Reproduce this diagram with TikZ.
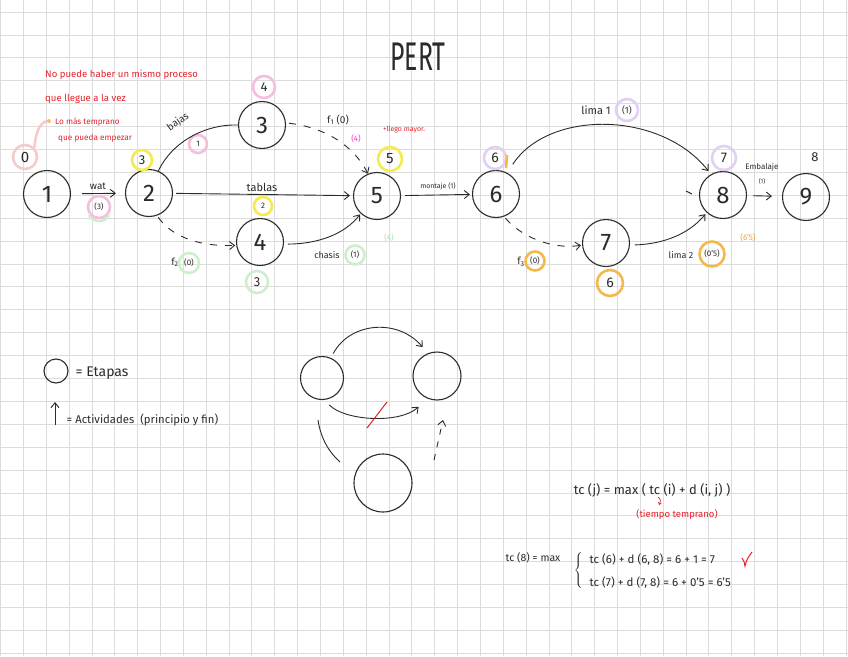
\documentclass[tikz,border=0pt]{standalone}
\usepackage{fontspec}
\setmainfont{Fira Sans}
\usetikzlibrary{arrows.meta}
\definecolor{ink}{HTML}{2B2B2B}
\definecolor{gridc}{HTML}{DCDCDC}
\definecolor{redt}{HTML}{E3212B}
\definecolor{pinkc}{HTML}{F4BEDD}
\definecolor{salmon}{HTML}{F7CACA}
\definecolor{yellowc}{HTML}{F4EC4E}
\definecolor{lavc}{HTML}{E2CFF4}
\definecolor{greenc}{HTML}{CDEFCD}
\definecolor{orangec}{HTML}{F5B84A}
\definecolor{magt}{HTML}{F03CC0}
\definecolor{oranget}{HTML}{F5A030}
\definecolor{greent}{HTML}{A9E3A9}
\newcommand{\fs}[1]{\fontsize{#1}{#1}\selectfont}
\tikzset{
  gridline/.style={draw=gridc, line width=0.8pt},
  stage/.style={circle, draw=ink, line width=1.1pt, minimum size=47pt, inner sep=0pt, font=\fs{24}, text=ink},
  smallstage/.style={circle, draw=ink, line width=1.1pt, inner sep=0pt},
  act/.style={draw=ink, line width=0.9pt, -{Straight Barb[length=5pt,width=8pt]}},
  fict/.style={act, dash pattern=on 7pt off 8pt},
  plainline/.style={draw=ink, line width=0.9pt},
  hl/.style={circle, draw=#1, line width=2.6pt, inner sep=0.5pt, text=ink},
  lbl/.style={inner sep=0.5pt, text=ink},
  redtext/.style={inner sep=0pt, text=redt, anchor=west},
}
\begin{document}
\begin{tikzpicture}[x=1pt,y=-1pt]
\useasboundingbox (0,0) rectangle (848,656);
\fill[white] (0,0) rectangle (848,656);
\foreach \i in {0,...,37} \draw[gridline] ({0.5+22.85*\i},0) -- ({0.5+22.85*\i},656);
\foreach \j in {0,...,28} \draw[gridline] (0,{12+22.9*\j}) -- (848,{12+22.9*\j});

% title
\node[lbl, font=\fs{40}] (title) at (418,57) {\scalebox{0.62}[1]{PERT}};

% red notes
\node[redtext, font=\fs{9.6}] (note1) at (45,75) {No puede haber un mismo proceso};
\node[redtext, font=\fs{9.6}] (note2) at (45,99) {que llegue a la vez};
\node[redtext, font=\fs{8.2}] (note3) at (55,122) {Lo más temprano};
\node[redtext, font=\fs{8.2}] (note4) at (58,138) {que pueda empezar};

% stages
\node[stage] (n1) at (47,194) {1};
\node[stage] (n2) at (149,193) {2};
\node[stage] (n3) at (262,125) {3};
\node[stage] (n4) at (260,242) {4};
\node[stage] (n5) at (377,196) {5};
\node[stage] (n6) at (496,194) {6};
\node[stage] (n7) at (606,243) {7};
\node[stage] (n8) at (723,195) {8};
\node[stage] (n9) at (806,197) {9};

% highlights
\node[hl=salmon, minimum size=24pt, font=\fs{15}] (h0) at (25,157) {0};
\coordinate (dot) at (49,121);
\draw[salmon, line width=2.6pt] (h0.45) .. controls (36,128) and (42,121) .. (dot);
\fill[orangec!70!salmon] (dot) circle (2pt);
\node[hl=yellowc, minimum size=20pt, font=\fs{13}] (h2) at (142,160) {3};
\node[hl=pinkc, minimum size=18pt, font=\fs{8}] (hb) at (198,144) {1};
\node[hl=pinkc, minimum size=22pt, font=\fs{13}] (h3) at (264,87) {4};
\node[hl=pinkc, minimum size=22pt, font=\fs{8}] (hw) at (99,207) {(3)};
\draw[greenc, line width=2.4pt] (89,215) .. controls (92,223) and (106,223) .. (109,215);
\node[hl=yellowc, minimum size=18pt, font=\fs{8}] (ht) at (263,206) {2};
\node[hl=yellowc, minimum size=24pt, font=\fs{15}] (h5) at (390,159) {5};
\node[hl=greenc, minimum size=22pt, font=\fs{13}] (h4) at (257,282) {3};
\node[hl=lavc, minimum size=22pt, font=\fs{14}] (h6) at (495,158) {6};
\draw[orangec, line width=2.6pt] (507,155) -- (506,168);
\node[hl=lavc, minimum size=24pt, font=\fs{14}] (h8) at (724,158) {7};
\node[lbl, font=\fs{13}] (h9) at (815,157) {8};
\node[hl=orangec, minimum size=26pt, font=\fs{14}] (h7) at (610,283) {6};

% activities
\draw[act, shorten <=11pt, shorten >=9pt] (n1) -- (n2);
\node[lbl, font=\fs{10}] (lwat) at (98,186) {wat};

\draw[act, shorten <=3pt, shorten >=3pt] (n2) -- (n5);
\node[lbl, font=\fs{11}] (ltab) at (262,187) {tablas};

\draw[plainline] (n2.67) .. controls (172,142) and (205,124) .. (n3.west);
\node[lbl, font=\fs{10}, rotate=35] (lbaj) at (178,122) {bajas};

\draw[fict, shorten <=3pt] (n3.5) .. controls (322,127) and (352,143) .. (n5.112);
\node[lbl, font=\fs{10}] (lf1) at (338,120) {f\textsubscript{1} (0)};
\node[lbl, font=\fs{8}, text=magt] (lm4) at (356,139) {(4)};
\node[lbl, font=\fs{7}, text=redt] (lmay) at (404,130) {+llego mayor.};

\draw[fict, shorten <=2pt, shorten >=1pt] (n2.-70) .. controls (168,232) and (192,247) .. (n4.188);
\node[lbl, font=\fs{10}] (lf2) at (175,262) {f\textsubscript{2}};
\node[hl=greenc, minimum size=20pt, font=\fs{8}] (lf2d) at (189,263) {(0)};

\draw[act, shorten <=4pt, shorten >=1pt] (n4.-5) .. controls (318,244) and (345,234) .. (n5.-133);
\node[lbl, font=\fs{9}] (lcha) at (327,255) {chasis};
\node[hl=greenc, minimum size=19pt, font=\fs{8}] (lchad) at (355,255) {(1)};
\node[lbl, font=\fs{8}, text=greent] (lg4) at (389,238) {(4)};

\draw[act, shorten <=4pt, shorten >=2pt] (n5) -- (n6);
\node[lbl, font=\fs{7}] (lmon) at (438,186) {montaje (1)};

\draw[act, shorten <=10pt, shorten >=4pt] (n6.62) .. controls (548,110) and (660,110) .. (n8.120);
\node[lbl, font=\fs{11}] (ll1) at (596,110) {lima 1};
\node[hl=lavc, minimum size=22pt, font=\fs{9}] (ll1d) at (627,110) {(1)};

\draw[fict, shorten <=2pt, shorten >=1pt] (n6.-70) .. controls (520,236) and (552,250) .. (n7.185);
\node[lbl, font=\fs{10}] (lf3) at (521,262) {f\textsubscript{3}};
\node[hl=orangec, minimum size=19pt, font=\fs{8}] (lf3d) at (535,261) {(0)};

\draw[act, shorten <=5pt, shorten >=2pt] (n7.-5) .. controls (665,244) and (690,233) .. (n8.-133);
\node[lbl, font=\fs{9}] (ll2) at (681,255) {lima 2};
\node[hl=orangec, minimum size=25pt, inner sep=0pt, font=\fs{8}] (ll2d) at (712,254) {(0'5)};
\node[lbl, font=\fs{8}, text=oranget] (l65) at (748,238) {(6'5)};
\draw[plainline] (686,191) -- (692,194);

\draw[act, shorten <=6pt, shorten >=10pt] (n8) -- (n9);
\node[lbl, font=\fs{8}] (lemb) at (762,167) {Embalaje};
\node[lbl, font=\fs{6}] (lembd) at (762,181) {(1)};

% legend
\node[smallstage, minimum size=24pt] (legc) at (56,371) {};
\node[lbl, font=\fs{14}, anchor=west] (legE) at (75,373) {= Etapas};
\coordinate (arrB) at (55,425);
\coordinate (arrT) at (55,402);
\draw[act] (arrB) -- (arrT);
\node[lbl, font=\fs{11.3}, anchor=west] (legA) at (66,420) {= Actividades \ (principio y fin)};

% example diagram
\node[smallstage, minimum size=43pt] (ea) at (322,378) {};
\node[smallstage, minimum size=48pt] (eb) at (437,376) {};
\node[smallstage, minimum size=58pt] (ec) at (383,483) {};
\draw[act, shorten <=5pt, shorten >=8pt] (ea.66) .. controls (350,322) and (398,318) .. (eb.112);
\draw[act, shorten <=7pt, shorten >=12pt] (ea.-84) .. controls (345,421) and (400,424) .. (eb.-113);
\draw[redt, line width=1pt] (367,428) -- (387,402);
\draw[plainline] (318,420) .. controls (321,440) and (330,453) .. (340,462);
\coordinate (dashS) at (434,460);
\coordinate (dashE) at (443,420);
\draw[act, dash pattern=on 6pt off 7pt] (dashS) -- (dashE);

% formulas
\node[lbl, font=\fs{13}] (f1) at (652,490) {tc (j) = max ( tc (i) + d (i, j) )};
\draw[redt, line width=0.7pt, -{Straight Barb[length=2pt,width=3pt]}] (658,497) .. controls (661,500) .. (659,505);
\node[lbl, font=\fs{9.5}, text=redt] (f2) at (677,514) {(tiempo temprano)};
\node[lbl, font=\fs{10.5}] (f3) at (533,558) {tc (8) = max};
\node[lbl, text=ink] (brace) at (579,570) {$\left\{\rule{0pt}{20pt}\right.$};
\node[lbl, font=\fs{11.5}, anchor=west] (f4) at (589,560) {tc (6) + d (6, 8) = 6 + 1 = 7};
\node[lbl, font=\fs{11.5}, anchor=west] (f5) at (589,583) {tc (7) + d (7, 8) = 6 + 0'5 = 6'5};
\draw[redt, line width=1pt] (742,558) .. controls (744,561) .. (745,566) .. controls (747,559) .. (752,552);
\end{tikzpicture}
\end{document}
